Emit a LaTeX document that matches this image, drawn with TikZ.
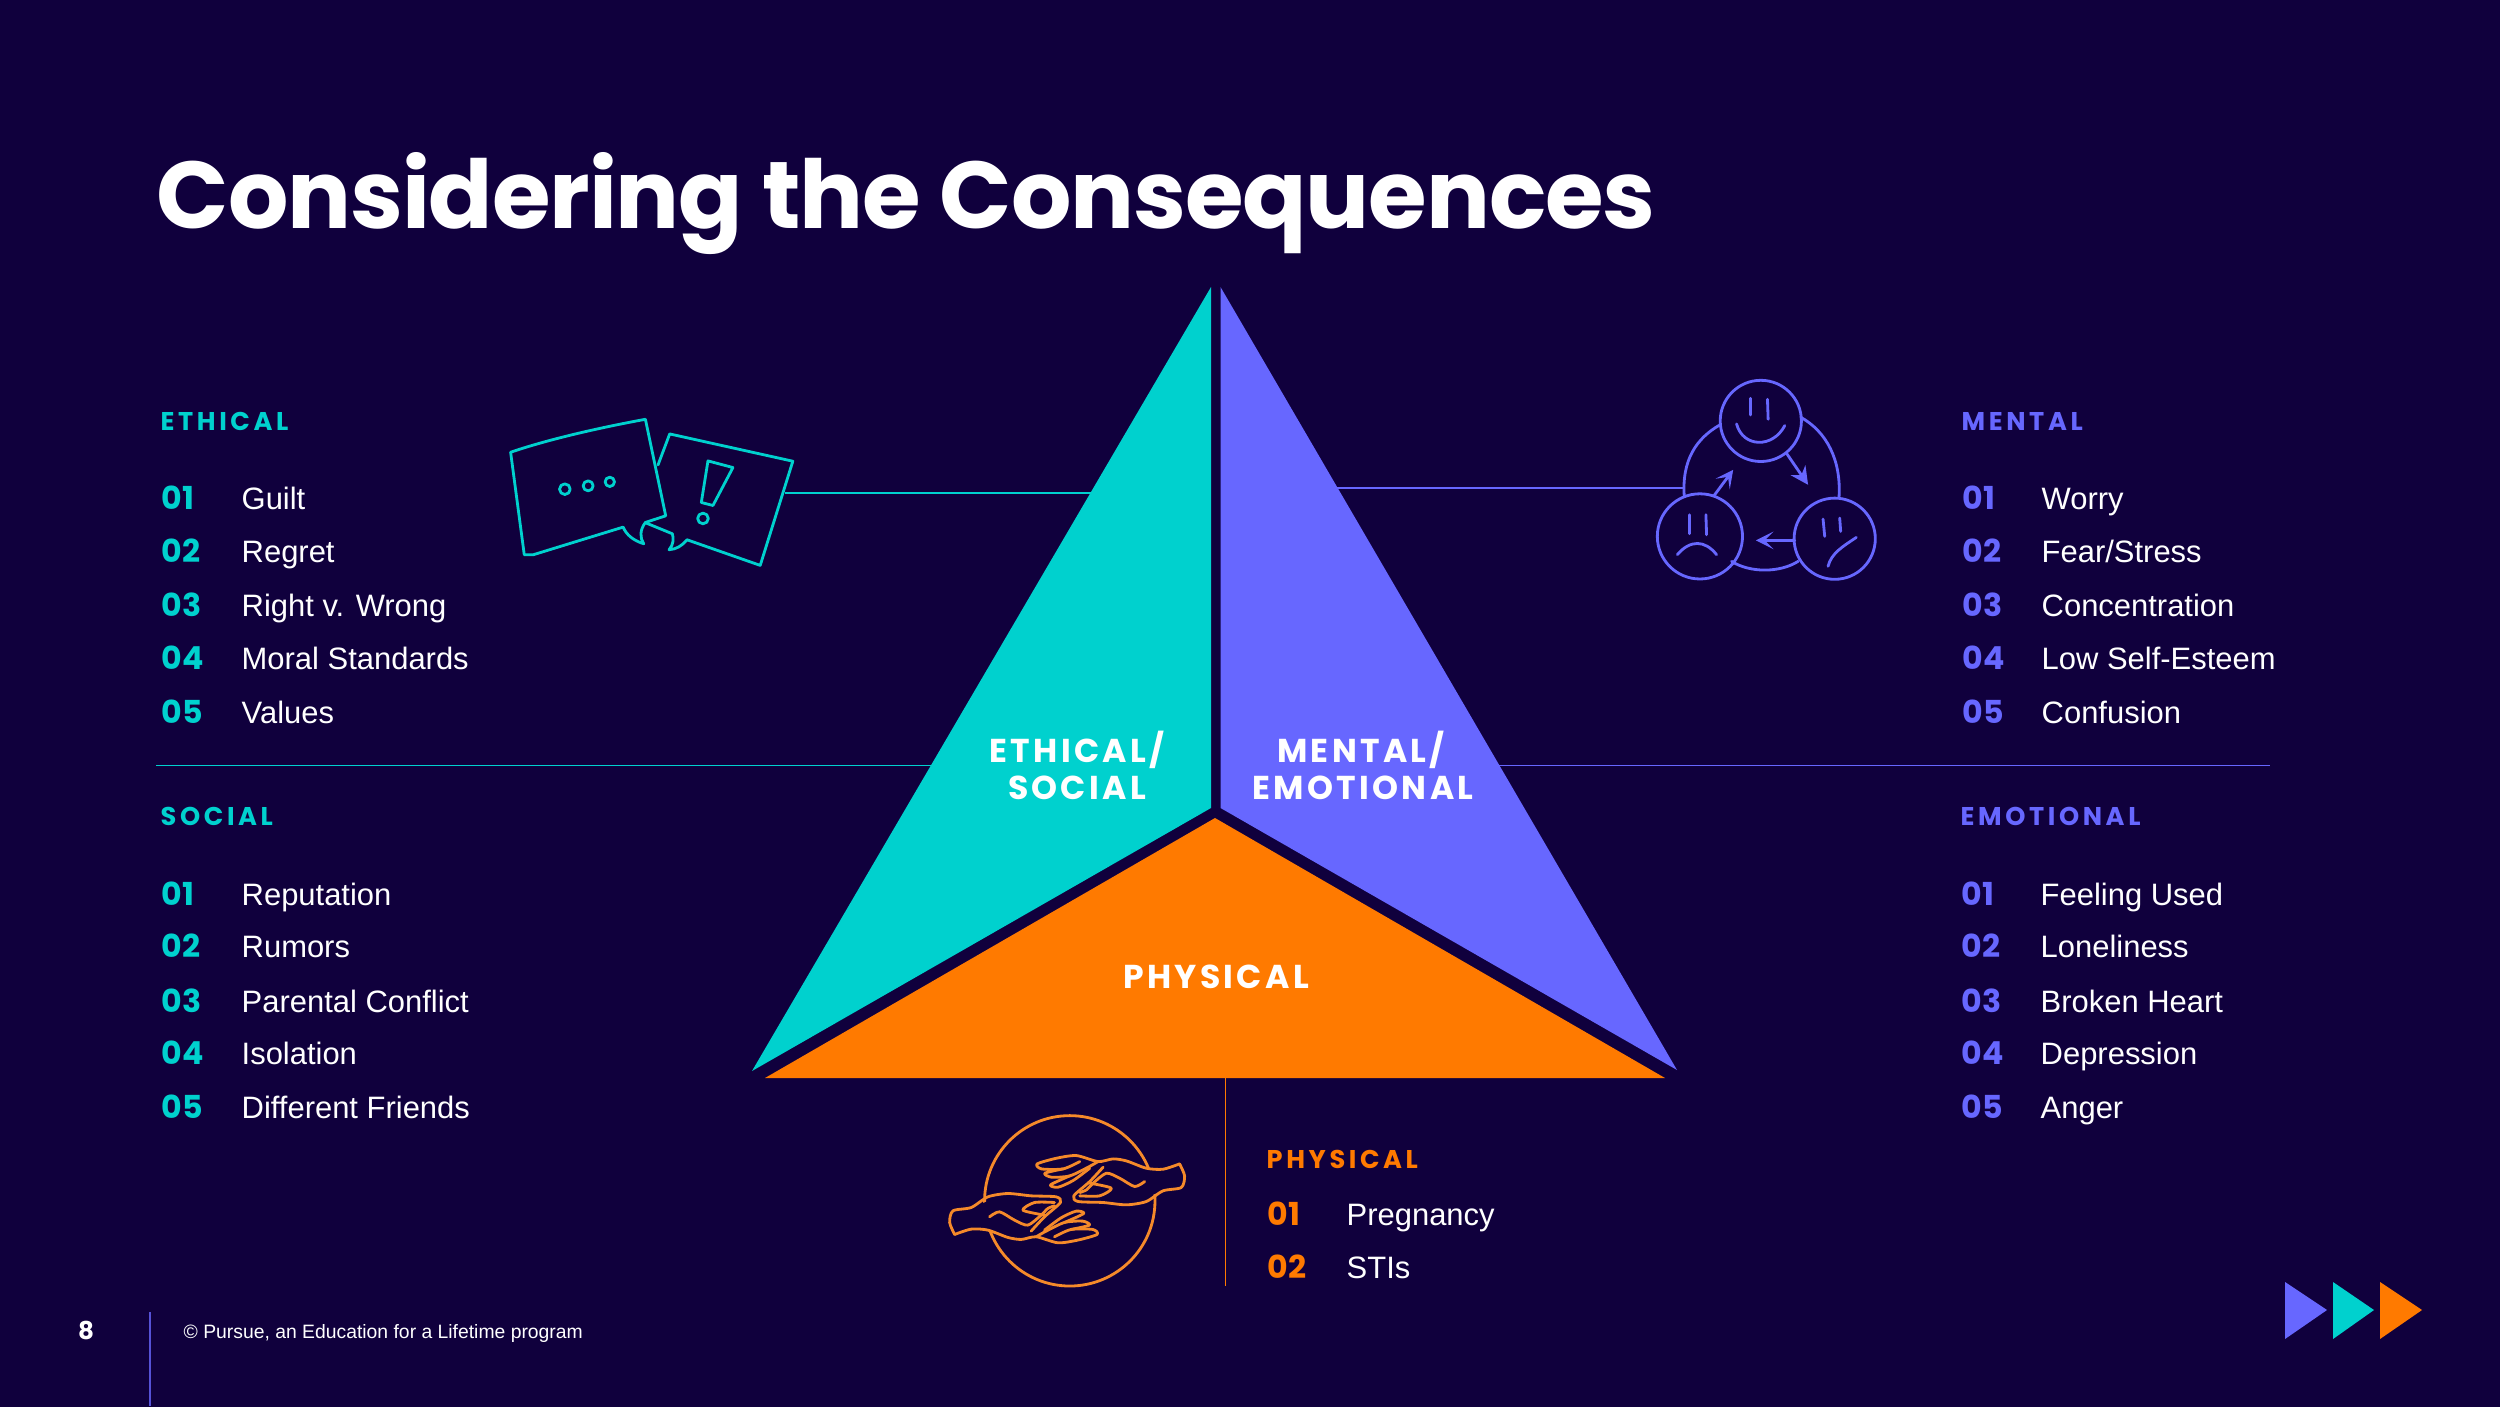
\documentclass[tikz,border=0pt]{standalone}
\usepackage{fontspec}
\usepackage{tikz}
\usetikzlibrary{arrows.meta}
\setmainfont{Liberation Sans}
\newfontfamily\headfont{Poppins}
\newfontfamily\titlefont[LetterSpace=-1.2]{Poppins}
\newfontfamily\spacedfont[LetterSpace=10]{Poppins}
\newfontfamily\sidefont[LetterSpace=14]{Poppins}
\definecolor{bgdark}{HTML}{10003D}
\definecolor{tealfill}{HTML}{00D1CE}
\definecolor{violetfill}{HTML}{6767FF}
\definecolor{orangefill}{HTML}{FF7A00}
\definecolor{orangeline}{HTML}{F58A2A}
\newcommand{\handlines}{
    \fill[bgdark] (750,222) -- (650,235) -- (550,207) -- (440,197) -- (322,222) -- (360,285)
        -- (432,318) -- (445,335) -- (590,345) -- (700,303) -- (755,293) -- (765,258) -- cycle;
    \draw plot[smooth, tension=0.45] coordinates {(750,222) (700,238) (650,235) (590,213) (550,207) (505,215) (440,197) (380,205) (322,222) (335,237) (400,237) (450,215)};
    \draw plot[smooth, tension=0.45] coordinates {(400,237) (345,250) (365,262) (420,258) (475,232) (505,215)};
    \draw plot[smooth, tension=0.45] coordinates {(420,258) (362,285) (385,292) (430,272) (480,235)};
    \draw plot[smooth, tension=0.45] coordinates {(520,232) (480,275) (432,318) (445,335) (520,338) (590,345) (650,335) (700,303) (755,293) (765,258) (750,222)};
    \draw plot[smooth, tension=0.45] coordinates {(645,275) (615,290) (570,265) (530,250) (490,280) (470,300) (450,308)};
    \draw plot[smooth, tension=0.45] coordinates {(480,280) (545,295) (510,318) (450,318)};
}
\tikzset{
    itemtext/.style={anchor=base west, inner sep=0pt, text=white, font=\fontsize{8.8}{11}\selectfont},
    itemnum/.style={anchor=base west, inner sep=0pt, font=\headfont\bfseries\fontsize{9}{11}\selectfont},
    sidehead/.style={anchor=base west, inner sep=0pt, font=\sidefont\bfseries\fontsize{7.3}{9}\selectfont},
    trilabel/.style={anchor=base, inner sep=0pt, text=white, font=\spacedfont\bfseries\fontsize{9.4}{11}\selectfont},
    leader/.style={line width=0.5pt},
    iconline/.style={line width=0.8pt, line cap=round, line join=round}
}
\begin{document}
\begin{tikzpicture}[x=0.01cm, y=-0.01cm]

    % page in reference pixels, y going down
    \useasboundingbox (0,0) rectangle (2500,1406);
    \fill[bgdark] (-5,-5) rectangle (2505,1411);

    \node[anchor=base west, inner sep=0pt, text=white, font=\titlefont\bfseries\fontsize{27}{32}\selectfont] (title) at (156,228) {Considering the Consequences};

    % Leader lines, under the triangle
    \coordinate (ethicalrule) at (156,765.5);
    \coordinate (ethicalruleend) at (1000,765.5);
    \coordinate (mentalrule) at (1400,765.5);
    \coordinate (mentalruleend) at (2270,765.5);
    \coordinate (bubbleend) at (785,493);
    \coordinate (bubbletri) at (1100,493);
    \coordinate (facesend) at (1683,488);
    \coordinate (facestri) at (1320,488);
    \coordinate (orangetop) at (1225.5,1077);
    \coordinate (orangeend) at (1225.5,1286);
    \draw[leader, tealfill] (ethicalrule) -- (ethicalruleend);
    \draw[leader, violetfill] (mentalrule) -- (mentalruleend);
    \draw[leader, tealfill] (bubbleend) -- (bubbletri);
    \draw[leader, violetfill] (facesend) -- (facestri);
    \draw[leader, orangefill] (orangetop) -- (orangeend);

    % Three parts of the triangle
    \fill[tealfill] (1211,287) -- (1211,808) -- (752,1071) -- cycle;
    \fill[violetfill] (1220.5,287) -- (1220.5,808) -- (1677,1070) -- cycle;
    \fill[orangefill] (1215,818) -- (1665,1078) -- (765,1078) -- cycle;

    \node[trilabel] (triethical) at (1077,762) {ETHICAL/};
    \node[trilabel] (trisocial) at (1077,799) {SOCIAL};
    \node[trilabel] (trimental) at (1361,762) {MENTAL/};
    \node[trilabel] (triemotional) at (1363,799) {EMOTIONAL};
    \node[trilabel] (triphysical) at (1216,988) {PHYSICAL};

    % Ethical list
    \node[sidehead, text=tealfill] (ethicalhead) at (160,430) {ETHICAL};
    \node[itemnum, text=tealfill] (ethicalnuma) at (161,509) {01};
    \node[itemnum, text=tealfill] (ethicalnumb) at (161,562) {02};
    \node[itemnum, text=tealfill] (ethicalnumc) at (161,616) {03};
    \node[itemnum, text=tealfill] (ethicalnumd) at (161,669) {04};
    \node[itemnum, text=tealfill] (ethicalnume) at (161,723) {05};
    \node[itemtext] (ethicala) at (241,509) {Guilt};
    \node[itemtext] (ethicalb) at (241,562) {Regret};
    \node[itemtext] (ethicalc) at (241,616) {Right v. Wrong};
    \node[itemtext] (ethicald) at (241,669) {Moral Standards};
    \node[itemtext] (ethicale) at (241,723) {Values};

    % Social list
    \node[sidehead, text=tealfill] (socialhead) at (160,825) {SOCIAL};
    \node[itemnum, text=tealfill] (socialnuma) at (161,905) {01};
    \node[itemnum, text=tealfill] (socialnumb) at (161,957) {02};
    \node[itemnum, text=tealfill] (socialnumc) at (161,1012) {03};
    \node[itemnum, text=tealfill] (socialnumd) at (161,1064) {04};
    \node[itemnum, text=tealfill] (socialnume) at (161,1118) {05};
    \node[itemtext] (sociala) at (241,905) {Reputation};
    \node[itemtext] (socialb) at (241,957) {Rumors};
    \node[itemtext] (socialc) at (241,1012) {Parental Conflict};
    \node[itemtext] (sociald) at (241,1064) {Isolation};
    \node[itemtext] (sociale) at (241,1118) {Different Friends};

    % Mental list
    \node[sidehead, text=violetfill] (mentalhead) at (1961,430) {MENTAL};
    \node[itemnum, text=violetfill] (mentalnuma) at (1962,509) {01};
    \node[itemnum, text=violetfill] (mentalnumb) at (1962,562) {02};
    \node[itemnum, text=violetfill] (mentalnumc) at (1962,616) {03};
    \node[itemnum, text=violetfill] (mentalnumd) at (1962,669) {04};
    \node[itemnum, text=violetfill] (mentalnume) at (1962,723) {05};
    \node[itemtext] (mentala) at (2041,509) {Worry};
    \node[itemtext] (mentalb) at (2041,562) {Fear/Stress};
    \node[itemtext] (mentalc) at (2041,616) {Concentration};
    \node[itemtext] (mentald) at (2041,669) {Low Self-Esteem};
    \node[itemtext] (mentale) at (2041,723) {Confusion};

    % Emotional list
    \node[sidehead, text=violetfill] (emotionalhead) at (1960,825) {EMOTIONAL};
    \node[itemnum, text=violetfill] (emotionalnuma) at (1961,905) {01};
    \node[itemnum, text=violetfill] (emotionalnumb) at (1961,957) {02};
    \node[itemnum, text=violetfill] (emotionalnumc) at (1961,1012) {03};
    \node[itemnum, text=violetfill] (emotionalnumd) at (1961,1064) {04};
    \node[itemnum, text=violetfill] (emotionalnume) at (1961,1118) {05};
    \node[itemtext] (emotionala) at (2040,905) {Feeling Used};
    \node[itemtext] (emotionalb) at (2040,957) {Loneliness};
    \node[itemtext] (emotionalc) at (2040,1012) {Broken Heart};
    \node[itemtext] (emotionald) at (2040,1064) {Depression};
    \node[itemtext] (emotionale) at (2040,1118) {Anger};

    % Physical list
    \node[sidehead, text=orangefill] (physicalhead) at (1266,1168) {PHYSICAL};
    \node[itemnum, text=orangefill] (physicalnuma) at (1267,1225.5) {01};
    \node[itemnum, text=orangefill] (physicalnumb) at (1267,1278.5) {02};
    \node[itemtext] (physicala) at (1346,1225.5) {Pregnancy};
    \node[itemtext] (physicalb) at (1346,1278.5) {STIs};

    % Speech bubbles, in the coordinates of a 3x crop
    \begin{scope}[shift={(480,390)}, x=0.003333cm, y=-0.003333cm, iconline, draw=tealfill]
        \draw (92,187) .. controls (200,150) and (350,115) .. (497,88) -- (558,378) -- (497,398)
            .. controls (480,420) and (480,445) .. (492,462)
            .. controls (460,452) and (440,435) .. (430,412)
            -- (160,495) -- (133,495) -- cycle;
        \draw (535,225) -- (570,132) -- (940,214) -- (842,527) -- (622,450)
            .. controls (605,470) and (590,478) .. (568,480)
            .. controls (582,465) and (582,445) .. (578,432) -- (500,400);
        \draw (255,298) circle (16);
        \draw (325,288) circle (15);
        \draw (390,276) circle (14);
        \draw (685,213) -- (760,233) -- (700,347) -- (665,338) -- cycle;
        \draw (670,386) circle (16);
    \end{scope}

    % Faces
    \begin{scope}[shift={(1640,360)}, x=0.003333cm, y=-0.003333cm, iconline, draw=violetfill]
        \draw (240,195) .. controls (170,235) and (125,300) .. (133,410);
        \draw (483,172) .. controls (560,215) and (605,300) .. (598,412);
        \draw (275,605) .. controls (330,640) and (420,640) .. (475,605);
        \draw (363,183) circle (122);
        \draw (180,530) circle (128);
        \draw (585,537) circle (122);
        \draw (332,115) -- (332,165);
        \draw (383,118) -- (385,178);
        \draw (290,192) .. controls (310,265) and (400,265) .. (435,197);
        \draw (148,465) -- (148,522);
        \draw (198,465) -- (200,525);
        \draw (112,585) .. controls (150,540) and (195,540) .. (230,585);
        \draw (550,478) -- (555,530);
        \draw (600,475) -- (603,515);
        \draw (565,620) .. controls (575,580) and (610,560) .. (650,533);
        \draw[-{Stealth[length=5pt, width=5pt]}, fill=violetfill] (440,280) -- (505,375);
        \draw[-{Stealth[length=5pt, width=5pt, inset=2.5pt]}] (222,408) -- (280,330);
        \draw[-{Stealth[length=5pt, width=5pt, inset=2.5pt]}] (465,542) -- (348,542);
    \end{scope}

    % Hands
    \begin{scope}[shift={(930,1090)}, x=0.003333cm, y=-0.003333cm, iconline, draw=orangeline]
        \draw (420,333) circle (256);
        \handlines
        \begin{scope}[rotate around={180:(412,328)}]
            \handlines
        \end{scope}
    \end{scope}

    % Footer
    \coordinate (footrule) at (150,1312);
    \coordinate (footruleend) at (150,1406);
    \draw[line width=0.7pt, violetfill!80!bgdark] (footrule) -- (footruleend);
    \node[inner sep=0pt, text=white, font=\headfont\bfseries\fontsize{7}{9}\selectfont] (pagenum) at (86,1330) {8};
    \node[anchor=base west, inner sep=0pt, text=white, font=\fontsize{5.5}{7}\selectfont] (footnote) at (183,1338) {© Pursue, an Education for a Lifetime program};

    % Arrows in the corner
    \fill[violetfill] (2285,1282) -- (2327,1310) -- (2285,1339) -- cycle;
    \fill[tealfill] (2333,1282) -- (2374,1310) -- (2333,1339) -- cycle;
    \fill[orangefill] (2380,1282) -- (2422,1310) -- (2380,1339) -- cycle;

\end{tikzpicture}
\end{document}
